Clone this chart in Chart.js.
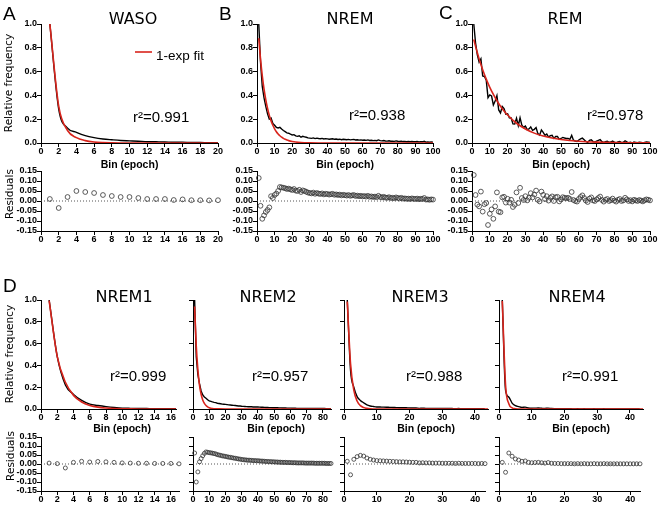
<!DOCTYPE html>
<html>
<head>
<meta charset="utf-8">
<script src="https://cdn.jsdelivr.net/npm/chart.js@4.4.1/dist/chart.umd.min.js"></script>
<style>
body { margin: 0; background: #fff; }
#wrap { position: relative; width: 661px; height: 506px; }
#wrap canvas { position: absolute; left: 0; top: 0; }
</style>
</head>
<body>
<div id="wrap"></div>
<script>
// ---- data (bin index = position in array + 1) ----
const wasoData  = [1.0,0.285,0.125,0.09,0.062,0.045,0.034,0.027,0.021,0.018,0.015,0.011,0.01,0.009,0.006,0.007,0.004,0.004,0.003,0.003];
const wasoFit   = [1.0,0.31,0.105,0.045,0.02,0.008,0.003,0.001,0,0,0,0,0,0,0,0,0,0,0,0];
const wasoResid = [0.01,-0.035,0.02,0.05,0.045,0.04,0.03,0.025,0.02,0.02,0.015,0.01,0.01,0.01,0.005,0.008,0.004,0.004,0.003,0.004];

const nremData = [1.0,0.68,0.475,0.38,0.307,0.245,0.2,0.21,0.164,0.149,
  0.132,0.126,0.131,0.117,0.105,0.095,0.085,0.082,0.074,0.068,
  0.07,0.06,0.056,0.061,0.049,0.056,0.052,0.048,0.043,0.041,
  0.039,0.043,0.037,0.041,0.038,0.036,0.039,0.034,0.037,0.035,
  0.032,0.034,0.036,0.031,0.033,0.03,0.032,0.028,0.031,0.029,
  0.027,0.03,0.026,0.028,0.03,0.025,0.027,0.024,0.026,0.023,
  0.025,0.022,0.026,0.021,0.023,0.02,0.022,0.019,0.026,0.02,
  0.018,0.021,0.017,0.016,0.019,0.015,0.016,0.014,0.018,0.015,
  0.013,0.016,0.012,0.013,0.011,0.012,0.01,0.013,0.011,0.01,
  0.012,0.009,0.011,0.01,0.015,0.007,0.008,0.006,0.008,0.007];
const nremFitX = [1,2,3,4,5,6,7,8,9,10,11,12,13,14,15,16,17,18,20,22,25,30,40,60,80,100];
const nremFitY = [0.88,0.705,0.564,0.452,0.362,0.29,0.232,0.186,0.149,0.119,0.095,0.076,0.061,0.049,0.039,0.031,0.025,0.02,0.013,0.008,0.004,0.0015,0,0,0,0];
const nremResid = [0.115,-0.024,-0.089,-0.072,-0.055,-0.045,-0.032,0.024,0.015,0.03,
  0.037,0.05,0.07,0.068,0.066,0.064,0.06,0.062,0.058,0.055,
  0.06,0.052,0.05,0.056,0.045,0.053,0.05,0.046,0.042,0.04,
  0.038,0.042,0.036,0.04,0.037,0.035,0.038,0.033,0.036,0.035,
  0.032,0.034,0.036,0.031,0.033,0.03,0.032,0.028,0.031,0.029,
  0.027,0.03,0.026,0.028,0.03,0.025,0.027,0.024,0.026,0.023,
  0.025,0.022,0.026,0.021,0.023,0.02,0.022,0.019,0.026,0.02,
  0.018,0.021,0.017,0.016,0.019,0.015,0.016,0.014,0.018,0.015,
  0.013,0.016,0.012,0.013,0.011,0.012,0.01,0.013,0.011,0.01,
  0.012,0.009,0.011,0.01,0.015,0.007,0.008,0.006,0.008,0.007];

const remData = [1.0,0.84,0.74,0.68,0.707,0.563,0.559,0.527,0.381,0.404,
  0.395,0.319,0.353,0.398,0.278,0.253,0.307,0.29,0.243,0.246,
  0.211,0.21,0.161,0.159,0.209,0.145,0.211,0.15,0.131,0.142,
  0.113,0.118,0.135,0.107,0.115,0.13,0.079,0.066,0.11,0.09,
  0.065,0.075,0.05,0.061,0.065,0.039,0.055,0.055,0.03,0.038,
  0.047,0.042,0.038,0.038,0.031,0.064,0.023,0.017,0.013,0.025,
  0.034,0.041,0.027,0.013,0.005,0.022,0.027,0.012,0.008,0.016,
  0.022,0.028,0.011,0.003,0.011,0.015,0.005,0.008,0.016,0.006,
  0.001,0.009,0.013,0.003,0.006,0.019,0.01,0.002,0.006,0.0,
  0.008,0.005,0.002,0.007,0.004,0.0,0.005,0.009,0.007,0.004];
const remFitX = [1,2,3,4,5,6,8,10,12,14,16,18,20,25,30,35,40,45,50,60,70,80,90,100];
const remFitY = [0.87,0.812,0.758,0.707,0.66,0.616,0.537,0.468,0.408,0.355,0.309,0.269,0.235,0.166,0.118,0.083,0.059,0.042,0.03,0.015,0.0075,0.004,0.002,0.001];
const remResid = [0.13,0.03,-0.018,-0.027,0.047,-0.053,-0.016,-0.01,-0.12,-0.064,
  -0.042,-0.089,-0.027,0.043,-0.053,-0.056,0.018,0.021,-0.008,0.011,
  -0.008,0.006,-0.03,-0.019,0.043,-0.01,0.066,0.015,0.005,0.024,
  0.003,0.016,0.039,0.018,0.032,0.052,0.006,-0.002,0.047,0.031,
  0.01,0.024,0.002,0.016,0.023,0.0,0.019,0.021,-0.002,0.008,
  0.019,0.016,0.014,0.016,0.01,0.045,0.005,0.0,-0.003,0.01,
  0.02,0.028,0.015,0.002,-0.005,0.012,0.018,0.003,0.0,0.008,
  0.015,0.022,0.005,-0.003,0.006,0.01,0.0,0.004,0.012,0.002,
  -0.003,0.006,0.01,0.0,0.003,0.016,0.008,0.0,0.004,-0.002,
  0.006,0.003,0.0,0.005,0.002,-0.002,0.004,0.008,0.006,0.003];

const n1Data  = [1.0,0.48,0.221,0.134,0.079,0.044,0.032,0.022,0.014,0.008,0.006,0.005,0.004,0.003,0.003,0.003,0.001];
const n1Fit   = [0.995,0.48,0.245,0.125,0.064,0.033,0.017,0.009,0.0045,0.0023,0.0012,0.0006,0.0003,0,0,0,0];
const n1Resid = [0.005,0.002,-0.022,0.009,0.015,0.011,0.014,0.012,0.009,0.006,0.005,0.004,0.004,0.003,0.003,0.003,0.001];

const n2Data = [1.0,0.48,0.316,0.232,0.165,0.129,0.11,0.099,0.085,0.075,
  0.07,0.065,0.061,0.058,0.053,0.051,0.048,0.045,0.044,0.042,
  0.04,0.038,0.037,0.035,0.033,0.032,0.03,0.028,0.027,0.025,
  0.024,0.023,0.022,0.021,0.021,0.02,0.019,0.019,0.018,0.018,
  0.017,0.016,0.016,0.015,0.014,0.014,0.013,0.013,0.012,0.012,
  0.011,0.011,0.01,0.01,0.009,0.009,0.009,0.008,0.008,0.008,
  0.007,0.007,0.007,0.006,0.006,0.006,0.006,0.006,0.005,0.005,
  0.005,0.005,0.005,0.005,0.004,0.004,0.004,0.004,0.004,0.004,
  0.004,0.003,0.003,0.003,0.003];
const n2FitX = [1,2,3,4,5,6,7,8,9,10,11,12,14,16,20,30,50,85];
const n2FitY = [0.94,0.58,0.36,0.22,0.135,0.083,0.051,0.032,0.02,0.012,0.0075,0.0046,0.0018,0.0007,0.0001,0,0,0];
const n2Resid = [0.061,-0.1,-0.044,0.012,0.03,0.046,0.059,0.067,0.065,0.063,
  0.062,0.06,0.058,0.056,0.052,0.05,0.048,0.045,0.044,0.042,
  0.04,0.038,0.037,0.035,0.033,0.032,0.03,0.028,0.027,0.025,
  0.024,0.023,0.022,0.021,0.021,0.02,0.019,0.019,0.018,0.018,
  0.017,0.016,0.016,0.015,0.014,0.014,0.013,0.013,0.012,0.012,
  0.011,0.011,0.01,0.01,0.009,0.009,0.009,0.008,0.008,0.008,
  0.007,0.007,0.007,0.006,0.006,0.006,0.006,0.006,0.005,0.005,
  0.005,0.005,0.005,0.005,0.004,0.004,0.004,0.004,0.004,0.004,
  0.004,0.003,0.003,0.003,0.003];

const n3Data = [1.0,0.354,0.2,0.114,0.079,0.057,0.038,0.028,0.023,0.019,
  0.018,0.017,0.016,0.015,0.014,0.013,0.012,0.012,0.011,0.01,
  0.009,0.009,0.006,0.007,0.006,0.006,0.005,0.005,0.005,0.004,
  0.004,0.004,0.004,0.003,0.004,0.003,0.003,0.003,0.003,0.003,
  0.002,0.003,0.002];
const n3FitX = [1,2,3,4,5,6,7,8,10,44];
const n3FitY = [0.985,0.414,0.174,0.073,0.031,0.013,0.0054,0.0023,0.0004,0];
const n3Resid = [0.015,-0.06,0.026,0.041,0.048,0.044,0.033,0.026,0.022,0.019,
  0.018,0.017,0.016,0.015,0.014,0.013,0.012,0.012,0.011,0.01,
  0.009,0.009,0.006,0.007,0.006,0.006,0.005,0.005,0.005,0.004,
  0.004,0.004,0.004,0.003,0.004,0.003,0.003,0.003,0.003,0.003,
  0.002,0.003,0.002];

const n4Data = [1.0,0.174,0.109,0.054,0.03,0.022,0.015,0.017,0.009,0.007,
  0.008,0.009,0.007,0.005,0.008,0.004,0.003,0.003,0.002,0.002,
  0.002,0.002,0.001,0.002,0.001,0.002,0.001,0.001,0.002,0.001,
  0.001,0.002,0.001,0.001,0.001,0.001,0.001,0.001,0.001,0.001,
  0.001,0.001,0.001];
const n4FitX = [1,2,3,4,5,6,8,44];
const n4FitY = [0.99,0.22,0.048,0.011,0.0024,0.0005,0,0];
const n4Resid = [0.009,-0.046,0.061,0.043,0.028,0.022,0.015,0.017,0.009,0.007,
  0.008,0.009,0.007,0.005,0.008,0.004,0.003,0.003,0.002,0.002,
  0.002,0.002,0.001,0.002,0.001,0.002,0.001,0.001,0.002,0.001,
  0.001,0.002,0.001,0.001,0.001,0.001,0.001,0.001,0.001,0.001,
  0.001,0.001,0.001];

// ---- drawing ----
const W = 661, H = 506;
const RED = '#d8241c';
const tickFont = { family: '"Liberation Sans", Arial, sans-serif', size: 9, weight: 'bold', lineHeight: 1 };
const F_TITLE = '16px "DejaVu Sans"';
const F_LETTER = '19px "Liberation Sans"';
const F_R2 = '15px "Liberation Sans"';
const F_BIN = 'bold 10.5px "Liberation Sans"';
const F_YT = '10.5px "DejaVu Sans"';
const UP = -Math.PI / 2;

Chart.defaults.color = '#000';

function bins(ys) { return ys.map((y, i) => ({ x: i + 1, y: y })); }
function xy(xs, ys) { return xs.map((x, i) => ({ x: x, y: ys[i] })); }

// free text (titles, r², panel letters, axis titles, legend)
const textPlugin = {
  id: 'texts',
  afterDraw(chart, args, opts) {
    const ctx = chart.ctx;
    (opts.items || []).forEach(t => {
      ctx.save();
      if (t.line) {
        ctx.strokeStyle = t.line;
        ctx.lineWidth = 1.6;
        ctx.beginPath();
        ctx.moveTo(t.x, t.y);
        ctx.lineTo(t.x2, t.y);
        ctx.stroke();
      } else {
        ctx.font = t.font;
        ctx.fillStyle = '#000';
        ctx.textAlign = t.align || 'left';
        ctx.textBaseline = 'alphabetic';
        ctx.translate(t.x, t.y);
        if (t.rot) ctx.rotate(t.rot);
        ctx.fillText(t.text, 0, 0);
      }
      ctx.restore();
    });
  }
};

function xAxis(max, step) {
  return {
    type: 'linear', min: 0, max: max,
    ticks: { stepSize: step, includeBounds: false, autoSkip: false, maxRotation: 0, font: tickFont, color: '#000', padding: 0 },
    grid: { drawOnChartArea: false, drawTicks: true, tickLength: 4, color: '#000' },
    border: { color: '#000', width: 1 },
    afterFit: s => { s.height = 15; }
  };
}

function yAxis(resid, labels) {
  return {
    min: resid ? -0.15 : 0, max: resid ? 0.15 : 1,
    ticks: {
      stepSize: resid ? 0.05 : 0.2, autoSkip: false, font: tickFont, color: '#000', padding: 0,
      callback: v => labels ? v.toFixed(resid ? 2 : 1) : ''
    },
    grid: { drawOnChartArea: false, drawTicks: true, tickLength: 4, color: '#000' },
    border: { color: '#000', width: 1 },
    afterFit: s => { s.width = 30; }
  };
}

function addChart(box, xMax, xStep, resid, labels, datasets, items) {
  const cv = document.createElement('canvas');
  cv.width = W; cv.height = H;
  document.getElementById('wrap').appendChild(cv);
  new Chart(cv, {
    type: 'line',
    data: { datasets: datasets },
    options: {
      responsive: false, animation: false, devicePixelRatio: 1, events: [],
      layout: { padding: { left: box[0] - 30, top: box[1], right: W - box[2], bottom: H - box[3] - 15 } },
      plugins: { legend: { display: false }, tooltip: { enabled: false }, texts: { items: items || [] } },
      scales: { x: xAxis(xMax, xStep), y: yAxis(resid, labels) }
    },
    plugins: [textPlugin]
  });
}

function mainSets(fit, data, smooth) {
  return [
    { data: fit, borderColor: RED, borderWidth: 1.6, pointRadius: 0, cubicInterpolationMode: 'monotone', order: 0 },
    { data: data, borderColor: '#000', borderWidth: 1.4, pointRadius: 0, cubicInterpolationMode: smooth ? 'monotone' : 'default', order: 1 }
  ];
}

function residSets(res, xMax, r) {
  return [
    { data: res, showLine: false, pointRadius: r, pointBorderWidth: 0.8, pointBorderColor: '#333', pointBackgroundColor: 'rgba(0,0,0,0)', clip: false },
    { data: [{ x: 0, y: 0 }, { x: xMax, y: 0 }], borderColor: '#555', borderWidth: 1, borderDash: [1, 2], pointRadius: 0 }
  ];
}

// A  WASO
addChart([41, 24, 218, 143], 20, 2, false, true, mainSets(bins(wasoFit), bins(wasoData), true), [
  { text: 'A', x: 3, y: 20, font: F_LETTER },
  { text: 'WASO', x: 133, y: 24, font: F_TITLE, align: 'center' },
  { line: RED, x: 135, x2: 152, y: 52 },
  { text: '1-exp fit', x: 156, y: 60, font: '13.5px "Liberation Sans"' },
  { text: 'r²=0.991', x: 133, y: 122, font: F_R2 },
  { text: 'Bin (epoch)', x: 129.5, y: 168, font: F_BIN, align: 'center' },
  { text: 'Relative frequency', x: 12, y: 83, font: F_YT, align: 'center', rot: UP }
]);
addChart([41, 171, 218, 231], 20, 2, true, true, residSets(bins(wasoResid), 20, 2.4), [
  { text: 'Residuals', x: 13, y: 194, font: F_YT, align: 'center', rot: UP }
]);

// B  NREM
addChart([257, 24, 433, 143], 100, 10, false, true, mainSets(xy(nremFitX, nremFitY), bins(nremData), false), [
  { text: 'B', x: 219, y: 20, font: F_LETTER },
  { text: 'NREM', x: 350, y: 24, font: F_TITLE, align: 'center' },
  { text: 'r²=0.938', x: 349, y: 120, font: F_R2 },
  { text: 'Bin (epoch)', x: 345, y: 168, font: F_BIN, align: 'center' }
]);
addChart([257, 171, 433, 231], 100, 10, true, true, residSets(bins(nremResid), 100, 2.4));

// C  REM
addChart([472, 24, 650, 143], 100, 10, false, true, mainSets(xy(remFitX, remFitY), bins(remData), false), [
  { text: 'C', x: 439, y: 19, font: F_LETTER },
  { text: 'REM', x: 565, y: 24, font: F_TITLE, align: 'center' },
  { text: 'r²=0.978', x: 587, y: 120, font: F_R2 },
  { text: 'Bin (epoch)', x: 561, y: 168, font: F_BIN, align: 'center' }
]);
addChart([472, 171, 650, 231], 100, 10, true, true, residSets(bins(remResid), 100, 2.4));

// D  NREM1-4
addChart([41, 300, 176, 409], 16.6, 2, false, true, mainSets(bins(n1Fit), bins(n1Data), true), [
  { text: 'D', x: 3, y: 292, font: F_LETTER },
  { text: 'NREM1', x: 124, y: 302, font: F_TITLE, align: 'center' },
  { text: 'r²=0.999', x: 110, y: 381, font: F_R2 },
  { text: 'Bin (epoch)', x: 122, y: 432, font: F_BIN, align: 'center' },
  { text: 'Relative frequency', x: 13, y: 354, font: F_YT, align: 'center', rot: UP }
]);
addChart([41, 437, 179, 491], 17, 2, true, true, residSets(bins(n1Resid), 17, 2), [
  { text: 'Residuals', x: 14, y: 456, font: F_YT, align: 'center', rot: UP }
]);

addChart([193, 300, 331, 409], 85, 10, false, false, mainSets(xy(n2FitX, n2FitY), bins(n2Data), false), [
  { text: 'NREM2', x: 268, y: 302, font: F_TITLE, align: 'center' },
  { text: 'r²=0.957', x: 252, y: 381, font: F_R2 },
  { text: 'Bin (epoch)', x: 276, y: 432, font: F_BIN, align: 'center' }
]);
addChart([193, 437, 331, 491], 85, 10, true, false, residSets(bins(n2Resid), 85, 2));

addChart([344, 300, 488, 409], 44, 10, false, false, mainSets(xy(n3FitX, n3FitY), bins(n3Data), true), [
  { text: 'NREM3', x: 420, y: 302, font: F_TITLE, align: 'center' },
  { text: 'r²=0.988', x: 406, y: 381, font: F_R2 },
  { text: 'Bin (epoch)', x: 426, y: 432, font: F_BIN, align: 'center' }
]);
addChart([344, 437, 485, 491], 43, 10, true, false, residSets(bins(n3Resid), 43, 2));

addChart([499, 300, 643, 409], 44, 10, false, false, mainSets(xy(n4FitX, n4FitY), bins(n4Data), true), [
  { text: 'NREM4', x: 577, y: 302, font: F_TITLE, align: 'center' },
  { text: 'r²=0.991', x: 562, y: 381, font: F_R2 },
  { text: 'Bin (epoch)', x: 581, y: 432, font: F_BIN, align: 'center' }
]);
addChart([499, 437, 640, 491], 43, 10, true, false, residSets(bins(n4Resid), 43, 2));
</script>
</body>
</html>
